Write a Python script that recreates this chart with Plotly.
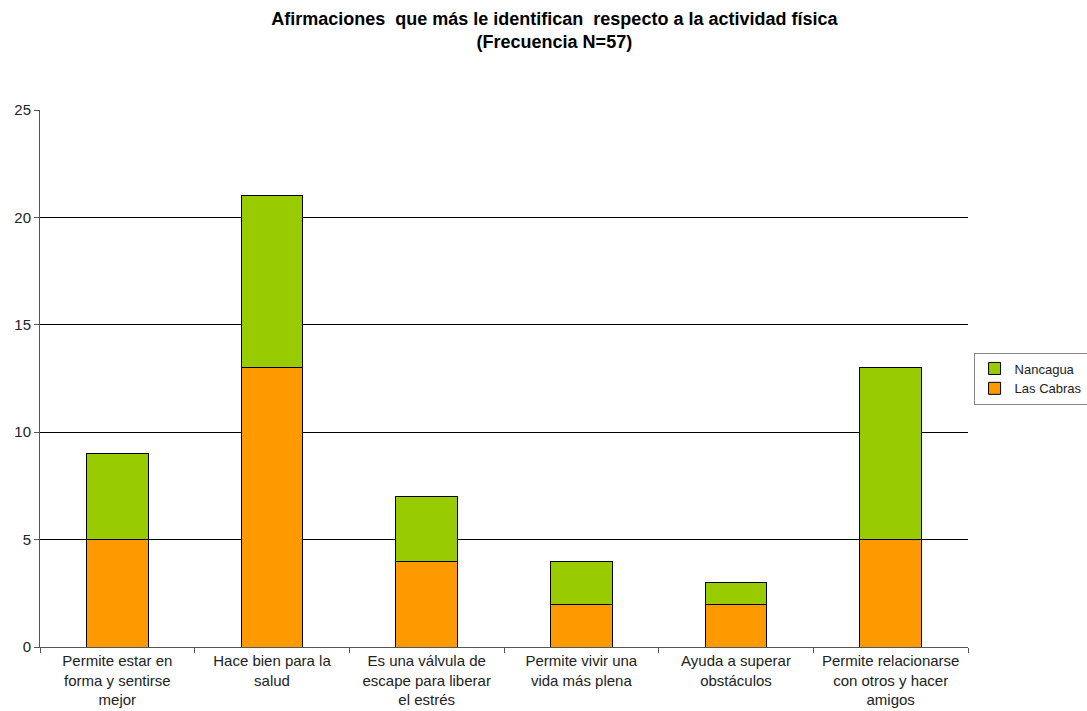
import plotly.graph_objects as go

categories = [
    "Permite estar en<br>forma y sentirse<br>mejor",
    "Hace bien para la<br>salud",
    "Es una válvula de<br>escape para liberar<br>el estrés",
    "Permite vivir una<br>vida más plena",
    "Ayuda a superar<br>obstáculos",
    "Permite relacionarse<br>con otros y hacer<br>amigos",
]
las_cabras = [5, 13, 4, 2, 2, 5]
nancagua = [4, 8, 3, 2, 1, 8]

font_family = "Liberation Sans, Arial, sans-serif"

fig = go.Figure()
fig.add_trace(go.Bar(
    x=categories, y=las_cabras, name="Las Cabras",
    marker=dict(color="#FF9900", line=dict(color="#000000", width=1)),
    width=0.4,
))
fig.add_trace(go.Bar(
    x=categories, y=nancagua, name="Nancagua",
    marker=dict(color="#99CC00", line=dict(color="#000000", width=1)),
    width=0.4,
))

fig.update_layout(
    barmode="stack",
    width=1087, height=711,
    margin=dict(l=40, r=119, t=110, b=64, autoexpand=False),
    paper_bgcolor="white", plot_bgcolor="white",
    font=dict(family=font_family, size=15, color="#222222"),
    title=dict(
        text="<b>Afirmaciones  que más le identifican  respecto a la actividad física<br>(Frecuencia N=57)</b>",
        x=0.51, xanchor="center", y=0.965, yanchor="top",
        font=dict(family=font_family, size=18, color="#000000"),
    ),
    legend=dict(
        x=1.006, xanchor="left", y=0.5, yanchor="middle",
        traceorder="reversed",
        bordercolor="#888888", borderwidth=1,
        font=dict(family=font_family, size=13, color="#222222"),
        itemwidth=30,
        tracegroupgap=0,
    ),
    showlegend=True,
)

fig.update_xaxes(
    showline=True, linecolor="#555555", linewidth=1,
    ticks="outside", tickson="boundaries", ticklen=5, tickcolor="#555555",
    showgrid=False,
    tickangle=0,
    tickfont=dict(size=15),
)
fig.update_yaxes(
    range=[0, 25], dtick=5,
    showline=True, linecolor="#555555", linewidth=1,
    ticks="outside", ticklen=5, tickcolor="#555555",
    showgrid=True, gridcolor="#000000", gridwidth=1,
    zeroline=False,
    tickfont=dict(size=15),
)

fig.write_html("out.html")
